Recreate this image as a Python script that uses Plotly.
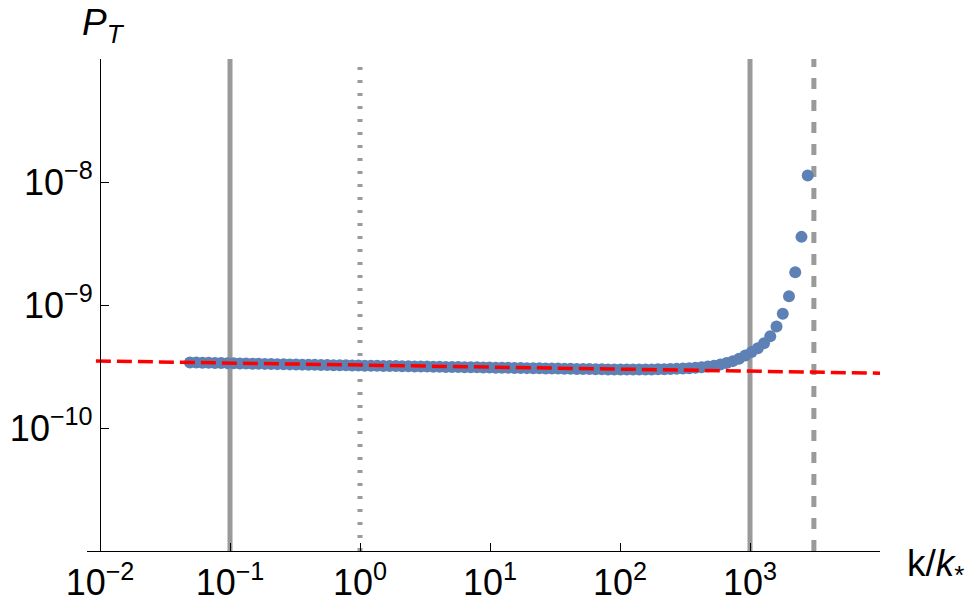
import plotly.graph_objects as go

# ---------------- data ----------------
k_over_kstar = [
    0.0492, 0.0550, 0.0614, 0.0685, 0.0766, 0.0855, 0.0955, 0.1067, 0.1191, 0.1330,
    0.1486, 0.1660, 0.1854, 0.2070, 0.2312, 0.2582, 0.2884, 0.3221, 0.3597, 0.4018,
    0.4487, 0.5012, 0.5598, 0.6252, 0.6982, 0.7798, 0.8710, 0.9727, 1.0864, 1.2134,
    1.3552, 1.5136, 1.6904, 1.8880, 2.1086, 2.3550, 2.6303, 2.9376, 3.2810, 3.6644,
    4.0926, 4.5709, 5.1050, 5.7016, 6.3680, 7.1121, 7.9433, 8.8716, 9.9083, 11.066,
    12.359, 13.804, 15.417, 17.219, 19.231, 21.478, 23.988, 26.792, 29.923, 33.420,
    37.325, 41.687, 46.559, 52.000, 58.076, 64.863, 72.444, 80.910, 90.365, 100.92,
    112.72, 125.89, 140.60, 157.04, 175.39, 195.88, 218.78, 244.34, 272.90, 304.79,
    340.41, 380.19, 424.62, 474.24, 529.66, 591.56, 660.69, 737.90, 824.14, 920.45,
    1028.0, 1148.2, 1282.3, 1432.2, 1599.6, 1786.5, 1995.3, 2228.5, 2488.9, 2779.7,
]
# P_T in units of 1e-10
P_T_e10 = [
    3.414, 3.406, 3.399, 3.391, 3.383, 3.376, 3.368, 3.360, 3.352, 3.344,
    3.336, 3.329, 3.321, 3.313, 3.306, 3.298, 3.290, 3.283, 3.275, 3.268,
    3.260, 3.254, 3.248, 3.243, 3.237, 3.231, 3.225, 3.219, 3.213, 3.208,
    3.202, 3.196, 3.190, 3.185, 3.179, 3.174, 3.168, 3.162, 3.156, 3.151,
    3.145, 3.139, 3.134, 3.128, 3.123, 3.117, 3.111, 3.106, 3.100, 3.095,
    3.089, 3.083, 3.078, 3.072, 3.067, 3.061, 3.055, 3.050, 3.044, 3.039,
    3.033, 3.028, 3.022, 3.017, 3.011, 3.006, 3.000, 2.995, 2.989, 2.993,
    2.991, 2.992, 2.992, 2.993, 2.996, 3.000, 3.006, 3.016, 3.025, 3.039,
    3.058, 3.082, 3.114, 3.157, 3.210, 3.277, 3.373, 3.497, 3.663, 3.887,
    4.139, 4.447, 4.88, 5.58, 6.70, 8.49, 11.8, 18.5, 35.8, 113.0,
]
P_T = [v * 1e-10 for v in P_T_e10]

# red dashed power-law approximation (end points)
k_fit = [0.0093, 10000.0]
P_fit = [3.51e-10, 2.79e-10]

# reference vertical lines
k_solid = [0.1, 1000.0]
k_dotted = [1.0]
k_dashed = [3100.0]

x_tick_vals = [0.01, 0.1, 1, 10, 100, 1000]
x_tick_text = ["10<sup>−2</sup>", "10<sup>−1</sup>", "10<sup>0</sup>",
               "10<sup>1</sup>", "10<sup>2</sup>", "10<sup>3</sup>"]
y_tick_vals = [1e-10, 1e-9, 1e-8]
y_tick_text = ["10<sup>−10</sup>", "10<sup>−9</sup>", "10<sup>−8</sup>"]

# ---------------- figure ----------------
W, H = 969, 599
ML, MR, MT, MB = 87, 89, 59, 48
PW, PH = W - ML - MR, H - MT - MB
x_range = [-2.1, 4.0]
y_range = [-11.0, -7.0]
y_axis_at = -2.0  # log10 of k/k* where the vertical axis crosses

FONT = "Liberation Sans, Arial, Helvetica, sans-serif"
BLUE = "#5E81B5"
GRAY = "#9a9a9a"

fig = go.Figure()

fig.add_trace(go.Scatter(
    x=k_over_kstar, y=P_T, mode="markers",
    marker=dict(color=BLUE, size=12, line=dict(width=0)),
    showlegend=False, hoverinfo="skip",
))
fig.add_trace(go.Scatter(
    x=k_fit, y=P_fit, mode="lines",
    line=dict(color="#FF0000", width=3.5, dash="15px,6px"),
    showlegend=False, hoverinfo="skip",
))

for kv in k_solid:
    fig.add_shape(type="line", xref="x", yref="paper", x0=kv, x1=kv, y0=0, y1=1,
                  line=dict(color=GRAY, width=5), layer="below")
for kv in k_dotted:
    fig.add_shape(type="line", xref="x", yref="paper", x0=kv, x1=kv, y0=0, y1=1,
                  line=dict(color=GRAY, width=5, dash="3px,10px"), layer="below")
for kv in k_dashed:
    fig.add_shape(type="line", xref="x", yref="paper", x0=kv, x1=kv, y0=0, y1=1,
                  line=dict(color=GRAY, width=5, dash="11px,11px"), layer="below")

fig.add_annotation(text="<i>P</i><sub><i>T</i></sub>", xref="paper", yref="paper",
                   x=(103 - ML) / PW, y=1 + (MT - 25) / PH, xanchor="center", yanchor="middle",
                   showarrow=False, font=dict(family=FONT, size=37, color="black"))
fig.add_annotation(text="k/<i>k</i><sub>*</sub>", xref="paper", yref="paper",
                   x=(935 - ML) / PW, y=-(566 - (H - MB)) / PH, xanchor="center", yanchor="middle",
                   showarrow=False, font=dict(family=FONT, size=37, color="black"))

fig.update_layout(
    width=W, height=H,
    margin=dict(l=ML, r=MR, t=MT, b=MB, pad=0),
    paper_bgcolor="white", plot_bgcolor="white",
    font=dict(family=FONT, color="black"),
    showlegend=False,
    xaxis=dict(
        type="log", range=x_range, showgrid=False, zeroline=False,
        showline=True, linecolor="black", linewidth=1.3, mirror=False,
        ticks="inside", ticklen=8, tickwidth=1, tickcolor="black",
        tickvals=x_tick_vals, ticktext=x_tick_text,
        tickfont=dict(family=FONT, size=36, color="black"),
        automargin=False,
    ),
    yaxis=dict(
        type="log", range=y_range, showgrid=False, zeroline=False,
        showline=True, linecolor="black", linewidth=1.3,
        anchor="free", position=(y_axis_at - x_range[0]) / (x_range[1] - x_range[0]),
        ticks="inside", ticklen=8, tickwidth=1, tickcolor="black",
        tickvals=y_tick_vals, ticktext=y_tick_text,
        tickfont=dict(family=FONT, size=36, color="black"),
        automargin=False,
    ),
)

fig.write_html("out.html", config={"displayModeBar": False},
               post_script="document.body.style.margin='0';")
